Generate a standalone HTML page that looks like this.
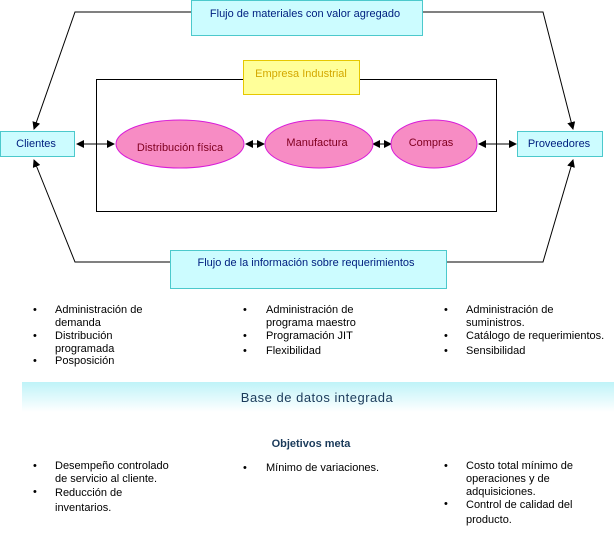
<!DOCTYPE html>
<html><head><meta charset="utf-8"><style>
body{margin:0;width:614px;height:554px;background:#fff;position:relative;overflow:hidden;font-family:"Liberation Sans",sans-serif;}
.t{position:absolute;font-size:11px;color:#000;line-height:13px;}
.b{position:absolute;font-size:11px;}
</style></head><body>
<svg width="614" height="554" style="position:absolute;left:0;top:0">
<defs>
<marker id="a" markerWidth="8" markerHeight="8" refX="7" refY="4" orient="auto" markerUnits="userSpaceOnUse"><path d="M0,0 L8,4 L0,8z" fill="#000"/></marker>
<marker id="s" markerWidth="8" markerHeight="8" refX="1" refY="4" orient="auto" markerUnits="userSpaceOnUse"><path d="M8,0 L0,4 L8,8z" fill="#000"/></marker>
<linearGradient id="g" x1="0" y1="0" x2="0" y2="1"><stop offset="0" stop-color="#bff3f8"/><stop offset="1" stop-color="#ffffff"/></linearGradient>
</defs>
<g stroke="#000" fill="none" stroke-width="1">
<polyline points="192,12 75,12 34,129" marker-end="url(#a)"/>
<polyline points="422,12 543,12 573,129" marker-end="url(#a)"/>
<polyline points="170,262 75,262 34,160" marker-end="url(#a)"/>
<polyline points="446,262 543,262 573,160" marker-end="url(#a)"/>
<rect x="96.5" y="79.5" width="400" height="132"/>
<line x1="77" y1="144" x2="114" y2="144" marker-start="url(#s)" marker-end="url(#a)"/>
<line x1="246" y1="144" x2="264" y2="144" marker-start="url(#s)" marker-end="url(#a)"/>
<line x1="373" y1="144" x2="391" y2="144" marker-start="url(#s)" marker-end="url(#a)"/>
<line x1="479" y1="144" x2="516" y2="144" marker-start="url(#s)" marker-end="url(#a)"/>
</g>
<rect x="191.5" y="0.5" width="231" height="35" fill="#ccfcff" stroke="#4cc9cc"/>
<rect x="243.5" y="60.5" width="116" height="34" fill="#ffff99" stroke="#e6c800"/>
<rect x="0.5" y="131.5" width="74" height="25" fill="#ccfcff" stroke="#4cc9cc"/>
<rect x="517.5" y="131.5" width="85" height="25" fill="#ccfcff" stroke="#4cc9cc"/>
<rect x="170.5" y="250.5" width="276" height="38" fill="#ccfcff" stroke="#4cc9cc"/>
<ellipse cx="180" cy="144" rx="64" ry="24" fill="#f78cc4" stroke="#d81bd8"/>
<ellipse cx="319" cy="144" rx="54" ry="24" fill="#f78cc4" stroke="#d81bd8"/>
<ellipse cx="434" cy="144" rx="43" ry="24" fill="#f78cc4" stroke="#d81bd8"/>
<rect x="22" y="382" width="592" height="30" fill="url(#g)"/>
<g font-family="Liberation Sans, sans-serif" font-size="11" text-anchor="middle">
<text x="305" y="17" fill="#002080">Flujo de materiales con valor agregado</text>
<text x="301" y="77" fill="#d4a800">Empresa Industrial</text>
<text x="36" y="147" fill="#002080">Clientes</text>
<text x="559" y="147" fill="#002080">Proveedores</text>
<text x="306" y="266" fill="#002080">Flujo de la información sobre requerimientos</text>
<text x="180" y="151" fill="#800020">Distribución física</text>
<text x="317" y="146" fill="#800020">Manufactura</text>
<text x="431" y="146" fill="#800020">Compras</text>
<text x="317" y="402" font-size="13" fill="#1a3a5a" letter-spacing="0.5">Base de datos integrada</text>
<text x="311" y="447" font-weight="bold" fill="#1a3a5a">Objetivos meta</text>
</g>
</svg>
<div class="b" style="left:33px;top:304px">•</div><div class="t" style="left:55px;top:304px">Administración de<br>demanda</div>
<div class="b" style="left:33px;top:330px">•</div><div class="t" style="left:55px;top:330px">Distribución<br>programada</div>
<div class="b" style="left:33px;top:355px">•</div><div class="t" style="left:55px;top:355px">Posposición</div>
<div class="b" style="left:243px;top:304px">•</div><div class="t" style="left:266px;top:304px">Administración de<br>programa maestro</div>
<div class="b" style="left:243px;top:330px">•</div><div class="t" style="left:266px;top:330px">Programación JIT</div>
<div class="b" style="left:243px;top:345px">•</div><div class="t" style="left:266px;top:345px">Flexibilidad</div>
<div class="b" style="left:444px;top:304px">•</div><div class="t" style="left:466px;top:304px">Administración de<br>suministros.</div>
<div class="b" style="left:444px;top:330px">•</div><div class="t" style="left:466px;top:330px">Catálogo de requerimientos.</div>
<div class="b" style="left:444px;top:345px">•</div><div class="t" style="left:466px;top:345px">Sensibilidad</div>
<div class="b" style="left:33px;top:460px">•</div><div class="t" style="left:55px;top:460px">Desempeño controlado<br>de servicio al cliente.</div>
<div class="b" style="left:33px;top:486px">•</div><div class="t" style="left:55px;top:486px;line-height:15px">Reducción de<br>inventarios.</div>
<div class="b" style="left:243px;top:462px">•</div><div class="t" style="left:266px;top:462px">Mínimo de variaciones.</div>
<div class="b" style="left:444px;top:460px">•</div><div class="t" style="left:466px;top:460px">Costo total mínimo de<br>operaciones y de<br>adquisiciones.</div>
<div class="b" style="left:444px;top:498px">•</div><div class="t" style="left:466px;top:498px;line-height:15px">Control de calidad del<br>producto.</div>
</body></html>
